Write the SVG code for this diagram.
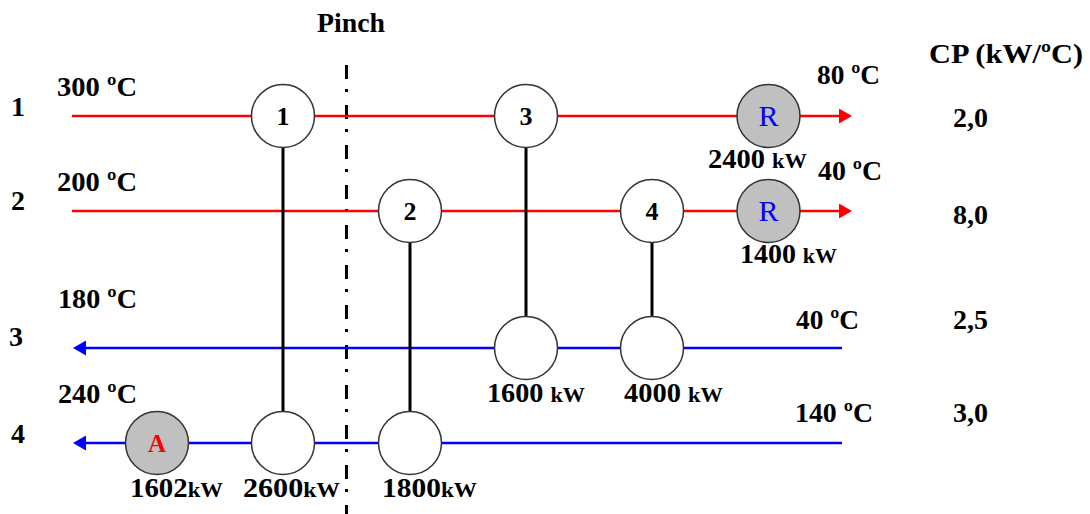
<svg xmlns="http://www.w3.org/2000/svg" width="1090" height="514" viewBox="0 0 1090 514">
<style>
.t{font-family:"Liberation Serif","Times New Roman",serif;font-weight:bold;font-size:28px;fill:#000}
.k{font-size:22px}
.lbl{font-family:"Liberation Serif","Times New Roman",serif;font-weight:bold;font-size:26px;fill:#000;text-anchor:middle}
.rl{font-family:"Liberation Serif","Times New Roman",serif;font-size:30px;fill:#0000ff;text-anchor:middle}
.al{font-family:"Liberation Serif","Times New Roman",serif;font-weight:bold;font-size:25px;fill:#ff0000;text-anchor:middle}
.hot{stroke:#ff0000;stroke-width:2.5;fill:none}
.cold{stroke:#0000ff;stroke-width:2.5;fill:none}
.match{stroke:#000;stroke-width:3}
.pinch{stroke:#000;stroke-width:3;stroke-dasharray:14 10 3 13}
.hx{fill:#fff;stroke:#333;stroke-width:1.5}
.util{fill:#c0c0c0;stroke:#333;stroke-width:1.5}
</style>
<defs>
<marker id="ar" viewBox="0 0 13 15" refX="7" refY="7.5" markerWidth="13" markerHeight="15" markerUnits="userSpaceOnUse" orient="auto"><path d="M0,0 L13,7.5 L0,15 z" fill="#ff0000"/></marker>
<marker id="ab" viewBox="0 0 13 15" refX="7" refY="7.5" markerWidth="13" markerHeight="15" markerUnits="userSpaceOnUse" orient="auto"><path d="M0,0 L13,7.5 L0,15 z" fill="#0000ff"/></marker>
</defs>
<rect width="1090" height="514" fill="#fff"/>
<g id="labels">
<text class="t" x="317" y="32" textLength="68" lengthAdjust="spacingAndGlyphs">Pinch</text>
<text class="t" x="929" y="63" textLength="154" lengthAdjust="spacingAndGlyphs">CP (kW/ºC)</text>
<text class="t" x="11" y="116">1</text>
<text class="t" x="11" y="210">2</text>
<text class="t" x="9" y="346">3</text>
<text class="t" x="11" y="443">4</text>
<text class="t" x="57" y="96" textLength="80" lengthAdjust="spacingAndGlyphs">300 ºC</text>
<text class="t" x="57" y="191" textLength="80" lengthAdjust="spacingAndGlyphs">200 ºC</text>
<text class="t" x="58" y="308" textLength="79" lengthAdjust="spacingAndGlyphs">180 ºC</text>
<text class="t" x="58" y="403" textLength="79" lengthAdjust="spacingAndGlyphs">240 ºC</text>
<text class="t" x="817" y="84" textLength="63" lengthAdjust="spacingAndGlyphs">80 ºC</text>
<text class="t" x="818" y="180" textLength="64" lengthAdjust="spacingAndGlyphs">40 ºC</text>
<text class="t" x="796" y="329" textLength="63" lengthAdjust="spacingAndGlyphs">40 ºC</text>
<text class="t" x="795" y="422" textLength="78" lengthAdjust="spacingAndGlyphs">140 ºC</text>
<text class="t" x="953" y="127" textLength="35" lengthAdjust="spacingAndGlyphs">2,0</text>
<text class="t" x="953" y="224" textLength="35" lengthAdjust="spacingAndGlyphs">8,0</text>
<text class="t" x="953" y="329" textLength="35" lengthAdjust="spacingAndGlyphs">2,5</text>
<text class="t" x="953" y="422" textLength="35" lengthAdjust="spacingAndGlyphs">3,0</text>
</g>
<g id="connectors">
<line class="pinch" x1="346.5" y1="65" x2="346.5" y2="514"/>
<line class="hot" x1="72" y1="116" x2="846" y2="116" marker-end="url(#ar)"/>
<line class="hot" x1="72" y1="211" x2="846" y2="211" marker-end="url(#ar)"/>
<line class="cold" x1="842" y1="348" x2="79" y2="348" marker-end="url(#ab)"/>
<line class="cold" x1="842" y1="443" x2="79" y2="443" marker-end="url(#ab)"/>
<line class="match" x1="283" y1="146" x2="283" y2="414"/>
<line class="match" x1="410" y1="241" x2="410" y2="414"/>
<line class="match" x1="526" y1="146" x2="526" y2="319"/>
<line class="match" x1="652" y1="241" x2="652" y2="319"/>
</g>
<g id="hx1-hot"><circle class="hx" cx="283" cy="116" r="31.5"/><text class="lbl" x="283" y="125">1</text></g>
<g id="hx3-hot"><circle class="hx" cx="526" cy="116" r="31.5"/><text class="lbl" x="526" y="125">3</text></g>
<g id="cooler1"><circle class="util" cx="768.5" cy="116" r="31.5"/><text class="rl" x="768.5" y="126">R</text>
<text class="t" x="708" y="168" textLength="99" lengthAdjust="spacingAndGlyphs">2400 <tspan class="k">kW</tspan></text></g>
<g id="hx2-hot"><circle class="hx" cx="410" cy="211" r="31.5"/><text class="lbl" x="410" y="220">2</text></g>
<g id="hx4-hot"><circle class="hx" cx="652" cy="211" r="31.5"/><text class="lbl" x="652" y="220">4</text></g>
<g id="cooler2"><circle class="util" cx="768.5" cy="211" r="31.5"/><text class="rl" x="768.5" y="221">R</text>
<text class="t" x="740" y="263" textLength="97" lengthAdjust="spacingAndGlyphs">1400 <tspan class="k">kW</tspan></text></g>
<g id="hx3-cold"><circle class="hx" cx="526" cy="348" r="31.5"/>
<text class="t" x="487" y="402" textLength="98" lengthAdjust="spacingAndGlyphs">1600 <tspan class="k">kW</tspan></text></g>
<g id="hx4-cold"><circle class="hx" cx="652" cy="348" r="31.5"/>
<text class="t" x="624" y="402" textLength="99" lengthAdjust="spacingAndGlyphs">4000 <tspan class="k">kW</tspan></text></g>
<g id="heater"><circle class="util" cx="157" cy="443" r="31.5"/><text class="al" x="157" y="452">A</text>
<text class="t" x="130" y="497" textLength="93" lengthAdjust="spacingAndGlyphs">1602<tspan class="k">kW</tspan></text></g>
<g id="hx1-cold"><circle class="hx" cx="283" cy="443" r="31.5"/>
<text class="t" x="243" y="497" textLength="97" lengthAdjust="spacingAndGlyphs">2600<tspan class="k">kW</tspan></text></g>
<g id="hx2-cold"><circle class="hx" cx="410" cy="443" r="31.5"/>
<text class="t" x="382" y="497" textLength="95" lengthAdjust="spacingAndGlyphs">1800<tspan class="k">kW</tspan></text></g>
</svg>
